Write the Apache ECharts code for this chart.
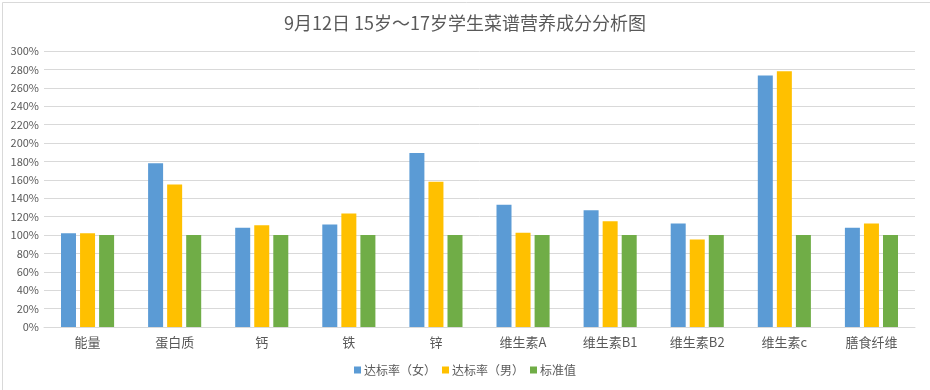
<!DOCTYPE html>
<html>
<head>
<meta charset="utf-8">
<script src="https://cdn.jsdelivr.net/npm/echarts@6/dist/echarts.min.js"></script>
<style>
html,body{margin:0;padding:0;background:#fff;}
#c{width:930px;height:390px;}
</style>
</head>
<body>
<div id="c"></div>
<script>
const categories = ['能量','蛋白质','钙','铁','锌','维生素A','维生素B1','维生素B2','维生素c','膳食纤维'];
const female = [102, 178, 108, 111.5, 189, 133, 127, 112.5, 273.5, 108];
const male = [102, 155, 110.5, 123.5, 158, 102.5, 115, 95, 278, 112.5];
const standard = [100, 100, 100, 100, 100, 100, 100, 100, 100, 100];
const seriesNames = ['达标率（女）','达标率（男）','标准值'];
const titleText = '9月12日 15岁～17岁学生菜谱营养成分分析图';

const font = '"Noto Sans CJK SC", "Noto Sans", sans-serif';
const chart = echarts.init(document.getElementById('c'));
chart.setOption({
  backgroundColor: '#fff',
  animation: false,
  textStyle: { fontFamily: font },
  title: {
    text: titleText, left: 'center', top: 9,
    textStyle: { fontSize: 18, fontWeight: 'normal', color: '#595959', fontFamily: font }
  },
  graphic: [{
    type: 'rect', left: 0, top: 0, silent: true,
    shape: { x: 0.5, y: 0.5, width: 929, height: 389 },
    style: { fill: 'none', stroke: '#d9d9d9', lineWidth: 1 }
  }],
  legend: {
    data: seriesNames, bottom: 9, left: 'center',
    itemWidth: 7, itemHeight: 7, itemGap: 6, icon: 'rect',
    textStyle: { fontSize: 12, color: '#595959', fontFamily: font, padding: [0, 0, 0, -2] }
  },
  grid: { left: 44, right: 15, top: 51, bottom: 63, containLabel: false },
  xAxis: {
    type: 'category', data: categories,
    axisLine: { lineStyle: { color: '#d9d9d9' } },
    axisTick: { show: false },
    axisLabel: { fontSize: 13, color: '#595959', margin: 9, fontFamily: font }
  },
  yAxis: {
    type: 'value', min: 0, max: 300, interval: 20,
    axisLine: { show: false }, axisTick: { show: false },
    splitLine: { lineStyle: { color: '#d9d9d9' } },
    axisLabel: { fontSize: 11, color: '#595959', margin: 5, formatter: v => v + '%', fontFamily: font }
  },
  series: [
    { name: seriesNames[0], type: 'bar', data: female, barWidth: 15, barGap: '27%', itemStyle: { color: '#5B9BD5' } },
    { name: seriesNames[1], type: 'bar', data: male, barWidth: 15, barGap: '27%', itemStyle: { color: '#FFC000' } },
    { name: seriesNames[2], type: 'bar', data: standard, barWidth: 15, barGap: '27%', itemStyle: { color: '#70AD47' } }
  ]
});
</script>
</body>
</html>
